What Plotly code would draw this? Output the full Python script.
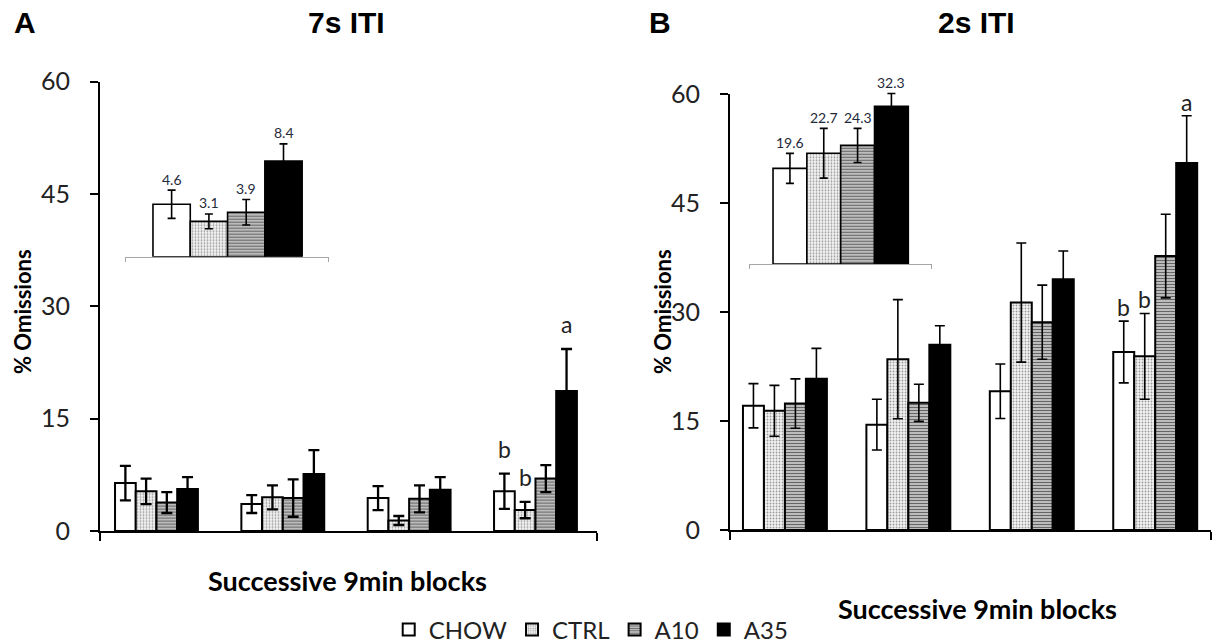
import plotly.graph_objects as go

W, H = 1214, 644

groups = ["CHOW", "CTRL", "A10", "A35"]
blocks = [0, 1, 2, 3]

# Panel A: 7s ITI, % omissions per 9-min block (mean, SEM)
a_chow = [6.4, 3.6, 4.4, 5.3]
a_chow_err = [2.3, 1.2, 1.6, 2.35]
a_ctrl = [5.3, 4.5, 1.4, 2.8]
a_ctrl_err = [1.7, 1.6, 0.6, 1.1]
a_a10 = [3.8, 4.4, 4.3, 7.0]
a_a10_err = [1.4, 2.5, 1.8, 1.8]
a_a35 = [5.6, 7.6, 5.5, 18.7]
a_a35_err = [1.6, 3.2, 1.7, 5.6]

# Panel B: 2s ITI
b_chow = [17.1, 14.5, 19.1, 24.5]
b_chow_err = [3.05, 3.5, 3.75, 4.25]
b_ctrl = [16.4, 23.5, 31.3, 23.9]
b_ctrl_err = [3.5, 8.2, 8.2, 5.9]
b_a10 = [17.4, 17.5, 28.6, 37.7]
b_a10_err = [3.4, 2.55, 5.1, 5.75]
b_a35 = [20.8, 25.5, 34.5, 50.5]
b_a35_err = [4.2, 2.6, 3.9, 6.5]

# Session totals shown in the insets
inset_a = [4.6, 3.1, 3.9, 8.4]
inset_a_err = [1.24, 0.65, 1.12, 1.5]
inset_b = [19.6, 22.7, 24.3, 32.3]
inset_b_err = [3.07, 5.1, 3.5, 2.65]

yticks = [0, 15, 30, 45, 60]

styles = {
    "CHOW": dict(color="white", pattern=dict(shape="")),
    "CTRL": dict(color="#f2f2f2", pattern=dict(shape=".", fgcolor="#9a9a9a", bgcolor="#f4f4f4",
                                               size=3, solidity=0.3, fillmode="replace")),
    "A10": dict(color="#cfcfcf", pattern=dict(shape="-", fgcolor="#666666", bgcolor="#d8d8d8",
                                              size=3, solidity=0.5, fillmode="replace")),
    "A35": dict(color="black", pattern=dict(shape="")),
}

fig = go.Figure()


def px_x(p):
    return p / W


def px_y(p):
    return 1 - p / H


panel_a = [(a_chow, a_chow_err), (a_ctrl, a_ctrl_err), (a_a10, a_a10_err), (a_a35, a_a35_err)]
panel_b = [(b_chow, b_chow_err), (b_ctrl, b_ctrl_err), (b_a10, b_a10_err), (b_a35, b_a35_err)]

for data, xa, ya, w, thick, cap, show in [
    (panel_a, "x", "y", 0.164, 2.3, 5.5, True),
    (panel_b, "x3", "y3", 0.17, 1.6, 5.0, False),
]:
    for i, (g, (vals, errs)) in enumerate(zip(groups, data)):
        st = styles[g]
        fig.add_trace(go.Bar(
            x=blocks, y=vals, name=g, legendgroup=g, showlegend=show,
            xaxis=xa, yaxis=ya, width=w, offset=-2 * w + i * w,
            marker=dict(color=st["color"], pattern=st["pattern"],
                        line=dict(color="black", width=2)),
            error_y=dict(type="data", array=errs, visible=True, color="black",
                         thickness=thick, width=cap),
        ))

# Inset bars (one bar per diet group)
for vals, errs, xa, ya in [(inset_a, inset_a_err, "x2", "y2"), (inset_b, inset_b_err, "x4", "y4")]:
    for i, g in enumerate(groups):
        st = styles[g]
        fig.add_trace(go.Bar(
            x=[i], y=[vals[i]], name=g, legendgroup=g, showlegend=False,
            xaxis=xa, yaxis=ya, width=1, offset=-0.5,
            marker=dict(color=st["color"], pattern=st["pattern"],
                        line=dict(color="black", width=1.6)),
            error_y=dict(type="data", array=[errs[i]], visible=True, color="black",
                         thickness=1.6, width=4),
        ))

tickfont = dict(family="Lato", size=25, color="#222222")

main_y = dict(range=[0, 60], tickvals=yticks, ticks="outside", ticklen=8, tickwidth=1.8,
              tickcolor="black", showline=True, linecolor="black", linewidth=1.8,
              showgrid=False, zeroline=False, tickfont=tickfont, ticklabelstandoff=15)


def main_x(domain, rng):
    return dict(domain=domain, range=rng, showline=True, linecolor="black", linewidth=1.8,
                tickvals=[rng[0] + 0.002, rng[1] - 0.002], ticks="outside", ticklen=8,
                tickwidth=1.8, tickcolor="black", showticklabels=False, showgrid=False,
                zeroline=False)


def inset_x(domain, rng):
    return dict(domain=domain, range=rng, showline=True, linecolor="#a6a6a6", linewidth=1,
                tickvals=[rng[0] + 0.01, rng[1] - 0.01], ticks="outside", ticklen=4,
                tickwidth=1, tickcolor="#a6a6a6", showticklabels=False, showgrid=False,
                zeroline=False)


inset_y = dict(showline=False, showticklabels=False, ticks="", showgrid=False, zeroline=False)

fig.update_layout(
    width=W, height=H, margin=dict(l=0, r=0, t=0, b=0, autoexpand=False),
    paper_bgcolor="white", plot_bgcolor="rgba(0,0,0,0)",
    barmode="group",
    xaxis=dict(main_x([px_x(100), px_x(597)], [-0.447, 3.487]), anchor="y"),
    yaxis=dict(main_y, domain=[px_y(531), px_y(81.6)], anchor="x"),
    xaxis3=dict(main_x([px_x(730), px_x(1211)], [-0.445, 3.452]), anchor="y3"),
    yaxis3=dict(main_y, domain=[px_y(530), px_y(94)], anchor="x3"),
    xaxis2=dict(inset_x([px_x(125), px_x(329)], [-1.25, 4.22]), anchor="y2"),
    yaxis2=dict(inset_y, domain=[px_y(256.7), px_y(142.7)], range=[0, 10], anchor="x2"),
    xaxis4=dict(inset_x([px_x(749), px_x(932)], [-1.21, 4.2]), anchor="y4"),
    yaxis4=dict(inset_y, domain=[px_y(264), px_y(68.8)], range=[0, 40], anchor="x4"),
    legend=dict(orientation="h", xref="container", yref="container",
                x=0.487, xanchor="center", y=px_y(630), yanchor="middle",
                font=dict(family="Lato", size=24, color="#222222"), traceorder="normal",
                itemsizing="constant", itemwidth=30),
    showlegend=True,
)

ann = []
title_font = dict(family="Liberation Sans", size=30, color="black")
for txt, x, y in [("A", 25, 22), ("7s ITI", 346, 22), ("B", 660, 22), ("2s ITI", 976, 22)]:
    ann.append(dict(text="<b>%s</b>" % txt, x=px_x(x), y=px_y(y), xref="paper", yref="paper",
                    showarrow=False, xanchor="center", yanchor="middle", font=title_font))

xlabel_font = dict(family="Lato", size=27, color="black")
for x, y in [(347, 580), (977, 608)]:
    ann.append(dict(text="<b>Successive 9min blocks</b>", x=px_x(x), y=px_y(y), xref="paper",
                    yref="paper", showarrow=False, xanchor="center", yanchor="middle",
                    font=xlabel_font))
ylabel_font = dict(family="Lato", size=22, color="black")
for x in [22, 662]:
    ann.append(dict(text="<b>% Omissions</b>", x=px_x(x), y=px_y(312), xref="paper",
                    yref="paper", showarrow=False, textangle=-90, xanchor="center",
                    yanchor="middle", font=ylabel_font))

# Inset value labels
val_font = dict(family="Lato", size=14, color="#1f2a3a")
for vals, errs, xa, ya in [(inset_a, inset_a_err, "x2", "y2"), (inset_b, inset_b_err, "x4", "y4")]:
    for i, (v, e) in enumerate(zip(vals, errs)):
        ann.append(dict(text="%.1f" % v, x=i, y=v + e, xref=xa, yref=ya, showarrow=False,
                        yanchor="middle", yshift=11, font=val_font))

# Significance letters
sig_font = dict(family="Lato", size=23, color="#222222")
sig = [
    ("b", "x", "y", 3 - 1.5 * 0.164, a_chow[3] + a_chow_err[3], 25),
    ("b", "x", "y", 3 - 0.5 * 0.164, a_ctrl[3] + a_ctrl_err[3], 25),
    ("a", "x", "y", 3 + 1.5 * 0.164, a_a35[3] + a_a35_err[3], 25),
    ("b", "x3", "y3", 3 - 1.5 * 0.17, b_chow[3] + b_chow_err[3], 14),
    ("b", "x3", "y3", 3 - 0.5 * 0.17, b_ctrl[3] + b_ctrl_err[3], 14),
    ("a", "x3", "y3", 3 + 1.5 * 0.17, b_a35[3] + b_a35_err[3], 14),
]
for t, xa, ya, x, y, dy in sig:
    ann.append(dict(text=t, x=x, y=y, xref=xa, yref=ya, showarrow=False, yanchor="middle",
                    yshift=dy, font=sig_font))

fig.update_layout(annotations=ann)
fig.write_html("out.html")
